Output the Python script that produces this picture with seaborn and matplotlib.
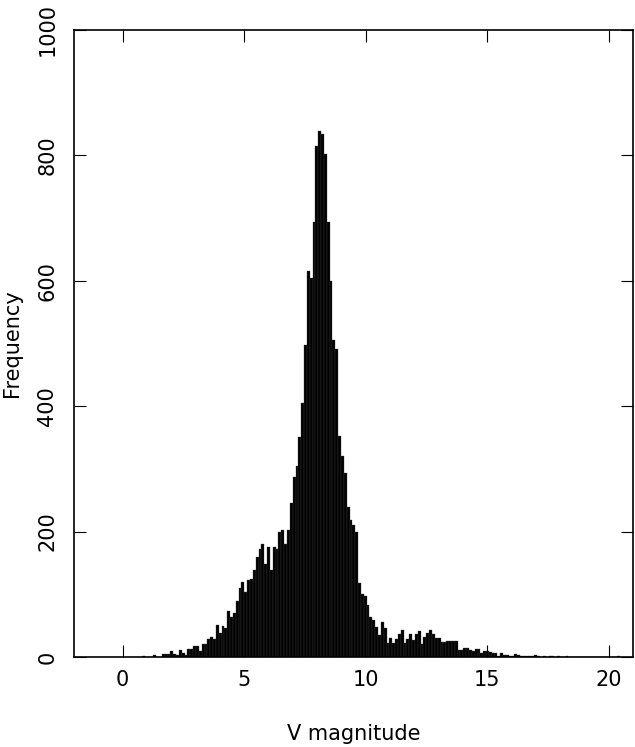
import numpy as np
import pandas as pd
import matplotlib
matplotlib.use("Agg")
import matplotlib.pyplot as plt
import seaborn as sns

sns.set_style("ticks")
plt.rcParams['font.family'] = ['DejaVu Sans']
plt.rcParams['text.color'] = 'black'
plt.rcParams['axes.labelcolor'] = 'black'
plt.rcParams['xtick.color'] = 'black'
plt.rcParams['ytick.color'] = 'black'

# histogram binning (bin width ~0.117 mag)
bin_start = 0.796
bin_width = 0.117

# counts per bin, bright end -> faint end
counts_bright = [2, 0, 0, 0, 3, 0, 0, 4, 5, 5, 9, 5, 3, 11, 7, 3, 12, 12, 18, 18,
                 10, 21, 20, 28, 32, 28, 51, 38, 50, 46, 74, 64, 70, 89, 110, 119,
                 103, 123, 124, 139, 159, 172, 181, 149, 176, 138, 176, 172]
counts_peak = [199, 203, 180, 203, 246, 287, 304, 351, 405, 498, 616, 605, 694, 815,
               839, 834, 803, 694, 600, 505, 492, 352, 320, 294, 240, 218, 210, 200]
counts_tail = [118, 101, 97, 83, 63, 59, 48, 35, 56, 47, 23, 30, 23, 28, 36, 43, 23,
               28, 36, 27, 36, 41, 21, 32, 38, 43, 37, 31, 31, 24, 24, 25, 25, 25, 25]
counts_faint = [11, 11, 14, 14, 11, 9, 13, 13, 7, 9, 9, 8, 6, 6, 1, 6, 3, 3, 1, 2,
                5, 3, 1, 2, 2, 1, 2, 3, 1, 0, 1, 0, 2, 1, 0, 1, 0, 0, 1,
                0, 0, 0, 0, 0, 0, 0, 0, 0, 0, 0, 0, 0, 0, 0, 0, 0, 1]

counts = counts_bright + counts_peak + counts_tail + counts_faint
n_bins = len(counts)
edges = bin_start + bin_width * np.arange(n_bins + 1)
df = pd.DataFrame({"vmag": (edges[:-1] + edges[1:]) / 2, "count": counts})

x_ticks = [0, 5, 10, 15, 20]
y_ticks = [0, 200, 400, 600, 800, 1000]

fig = plt.figure(figsize=(6.35, 7.47), dpi=100)
ax = fig.add_axes([74 / 635, 90 / 747, 559 / 635, 627 / 747])

sns.histplot(data=df, x="vmag", weights="count", bins=list(edges), color="black",
             alpha=1, edgecolor="0.25", linewidth=0.25, ax=ax)

ax.set_xlim(-2, 21)
ax.set_ylim(0, 1000)
ax.set_xticks(x_ticks)
ax.set_yticks(y_ticks)
ax.tick_params(direction="in", length=8.6, width=0.8, top=True, right=True,
               labelsize=15, color="black", labelcolor="black")
ax.tick_params(axis="x", pad=9)
ax.tick_params(axis="y", pad=12)
for lbl in ax.get_yticklabels():
  lbl.set_rotation(90)
  lbl.set_va("center")
for s in ax.spines.values():
  s.set_linewidth(1.2)
  s.set_color("black")

ax.set_xlabel("V magnitude", fontsize=15, labelpad=25)
ax.set_ylabel("Frequency", fontsize=15, labelpad=11)

fig.savefig("out.png", dpi=100)
